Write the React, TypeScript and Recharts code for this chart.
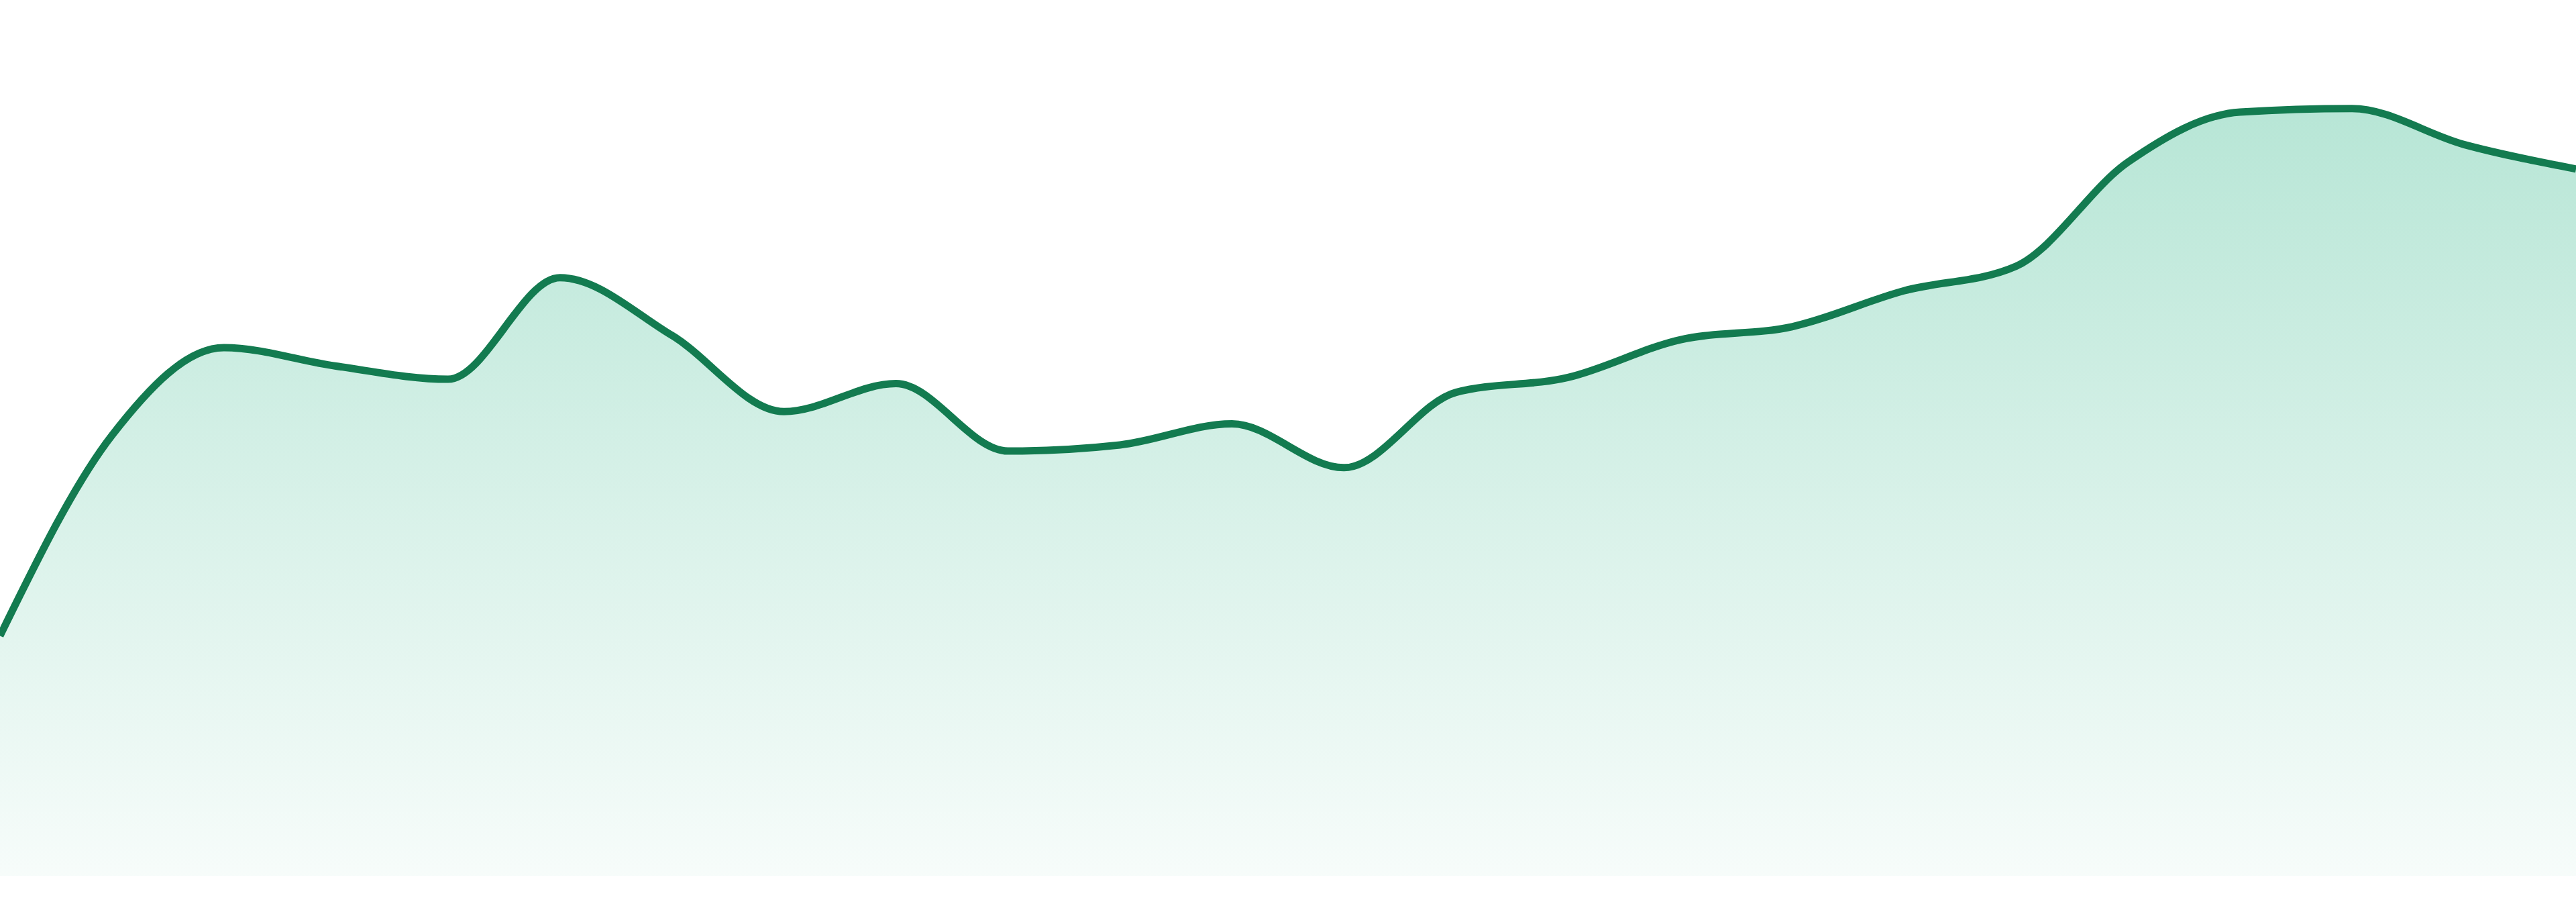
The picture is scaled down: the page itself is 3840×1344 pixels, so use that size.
import { AreaChart, Area, XAxis, YAxis } from "recharts";

// 24 evenly spaced samples
const periods = [
  "P01", "P02", "P03", "P04", "P05", "P06", "P07", "P08", "P09", "P10", "P11", "P12",
  "P13", "P14", "P15", "P16", "P17", "P18", "P19", "P20", "P21", "P22", "P23", "P24",
];
const values = [
  27.4, 50.3, 60.3, 58.2, 56.7, 68.3, 61.7, 53.0, 56.2, 48.5, 49.2, 51.6,
  46.6, 55.2, 56.9, 61.2, 62.7, 66.8, 69.6, 81.5, 87.2, 87.6, 83.5, 80.7,
];

const data = periods.map((period, i) => ({ period, value: values[i] }));

const STROKE = "#137b50";
const FILL = "#10ab76";

export default function App() {
  return (
    <div style={{ position: "absolute", left: 0, top: 0, width: 3840, height: 1344, background: "#fff" }}>
      <AreaChart width={3840} height={1344} data={data} margin={{ top: 0, right: 0, bottom: 39, left: 0 }}>
        <defs>
          <linearGradient id="areaFill" x1="0" y1="0" x2="0" y2="1">
            <stop offset="0%" stopColor={FILL} stopOpacity={0.3} />
            <stop offset="100%" stopColor={FILL} stopOpacity={0.035} />
          </linearGradient>
        </defs>
        <XAxis dataKey="period" hide />
        <YAxis domain={[0, 100]} hide />
        <Area
          type="monotone"
          dataKey="value"
          stroke={STROKE}
          strokeWidth={11}
          fill="url(#areaFill)"
          fillOpacity={1}
          dot={false}
          activeDot={false}
          isAnimationActive={false}
        />
      </AreaChart>
    </div>
  );
}
